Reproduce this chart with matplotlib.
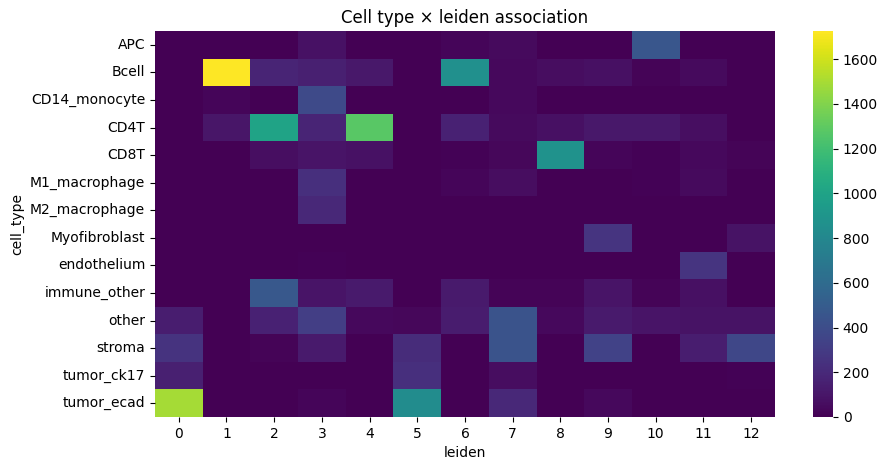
import matplotlib
matplotlib.use("Agg")
import matplotlib.pyplot as plt
import seaborn as sns
import pandas as pd

cell_types = ["APC", "Bcell", "CD14_monocyte", "CD4T", "CD8T", "M1_macrophage",
              "M2_macrophage", "Myofibroblast", "endothelium", "immune_other",
              "other", "stroma", "tumor_ck17", "tumor_ecad"]
leiden = [str(i) for i in range(13)]

# counts per cell type, columns are leiden clusters 0..12
apc = [0, 0, 0, 80, 0, 0, 25, 45, 0, 0, 460, 0, 0]
bcell = [0, 1725, 170, 150, 110, 0, 860, 35, 60, 70, 20, 45, 0]
cd14 = [0, 25, 0, 390, 0, 0, 0, 35, 0, 0, 0, 0, 0]
cd4t = [0, 100, 1000, 170, 1280, 0, 160, 45, 70, 110, 110, 65, 0]
cd8t = [0, 0, 65, 90, 75, 0, 10, 30, 870, 25, 10, 35, 15]
m1 = [0, 0, 0, 230, 0, 0, 25, 55, 0, 0, 10, 45, 0]
m2 = [0, 0, 0, 190, 0, 0, 0, 0, 0, 0, 0, 0, 0]
myofib = [0, 0, 0, 0, 0, 0, 0, 0, 0, 260, 0, 0, 85]
endo = [0, 0, 0, 10, 0, 0, 0, 0, 0, 0, 0, 260, 0]
immune_other = [0, 0, 470, 90, 120, 0, 115, 20, 20, 90, 20, 70, 0]
other = [140, 0, 160, 310, 35, 30, 130, 440, 35, 120, 90, 85, 85]
stroma = [250, 0, 20, 120, 0, 210, 0, 440, 0, 340, 0, 140, 370]
tumor_ck17 = [150, 0, 0, 0, 0, 230, 0, 55, 0, 0, 0, 0, 10]
tumor_ecad = [1490, 0, 0, 25, 0, 830, 0, 190, 0, 35, 0, 0, 0]

df = pd.DataFrame([apc, bcell, cd14, cd4t, cd8t, m1, m2, myofib, endo,
                   immune_other, other, stroma, tumor_ck17, tumor_ecad],
                  index=cell_types, columns=leiden)
df.index.name = "cell_type"
df.columns.name = "leiden"

fig = plt.figure(figsize=(8.87, 4.7), dpi=100)
ax = fig.add_axes([0.1747, 0.1128, 0.699, 0.821])
cax = fig.add_axes([0.9166, 0.1128, 0.0225, 0.821])

sns.heatmap(df, cmap="viridis", ax=ax, cbar_ax=cax)
ax.set_title("Cell type × leiden association")
ax.set_xlabel("leiden")
ax.set_ylabel("cell_type")

fig.savefig("out.png", dpi=100)
